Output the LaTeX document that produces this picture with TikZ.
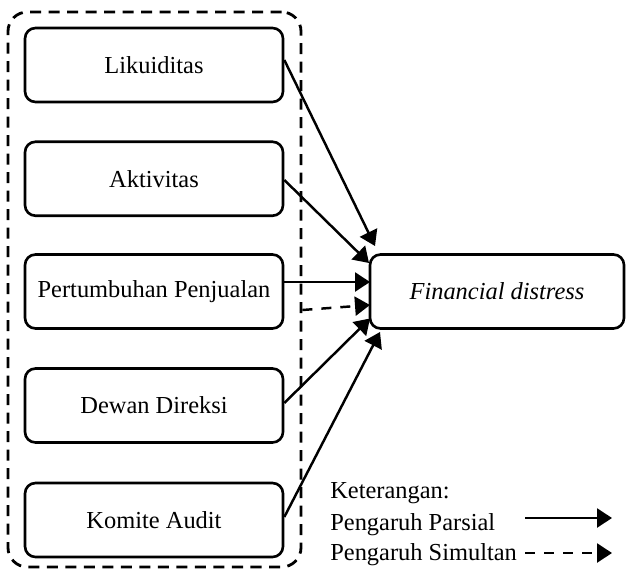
\documentclass[tikz,border=0pt]{standalone}
\usepackage{fontspec}
\setmainfont{Liberation Serif}
\usepackage{tikz}
\usetikzlibrary{
  arrows.meta,
  positioning
}

\begin{document}
\begin{tikzpicture}[
  font=\fontsize{13.9}{16.6}\selectfont,
  var/.style={
    draw, rounded corners=6pt,
    align=center, minimum width=5.16cm,
    minimum height=1.48cm, line width=1.5pt
  },
  group/.style={
    draw, rounded corners=11pt, line width=1.6pt,
    dash pattern=on 0.22cm off 0.15cm
  },
  arrow/.style={
    -{Triangle[length=3mm, width=3.8mm]},
    line width=1.4pt},
  simul/.style={arrow,
    dash pattern=on 0.2cm off 0.18cm}
]
\useasboundingbox (0,0) rectangle (12.54,-11.44);

\node[group, minimum width=5.86cm,
  minimum height=11.1cm] (grp) at (3.09,-5.79) {};

\node[var] (lik) at (3.08,-1.3)   {Likuiditas};
\node[var] (akt) at (3.08,-3.575) {Aktivitas};
\node[var] (pp)  at (3.08,-5.83)  {Pertumbuhan Penjualan};
\node[var] (dd)  at (3.08,-8.11)  {Dewan Direksi};
\node[var] (ka)  at (3.08,-10.4)  {Komite Audit};

\node[var, minimum width=5.08cm] (fd) at (9.94,-5.83)
  {\textit{Financial distress}};

\coordinate (t1) at (7.50,-4.92);
\coordinate (t2) at (7.38,-5.26);
\coordinate (t3) at (7.40,-5.64);
\coordinate (t4) at (7.40,-6.10);
\coordinate (t5) at (7.40,-6.37);
\coordinate (t6) at (7.60,-6.64);

\draw[arrow] (lik.east |- 0,-1.2) -- (t1);
\draw[arrow] (akt.east |- 0,-3.6) -- (t2);
\draw[arrow] (pp.east |- t3) -- (t3);
\draw[simul] (grp.east |- 0,-6.2) -- (t4);
\draw[arrow] (dd.east |- 0,-8.06) -- (t5);
\draw[arrow] (ka.east |- 0,-10.34) -- (t6);

\node[anchor=base west, inner sep=0] (ket) at (6.6,-9.96)
  {Keterangan:};
\node[anchor=base west, inner sep=0] (par) at (6.6,-10.6)
  {Pengaruh Parsial};
\node[anchor=base west, inner sep=0] (sim) at (6.6,-11.2)
  {Pengaruh Simultan};

\coordinate (p1) at (10.5,-10.36);
\coordinate (p2) at (12.24,-10.36);
\coordinate (s1) at (10.5,-11.06);
\coordinate (s2) at (12.24,-11.06);
\draw[arrow] (p1) -- (p2);
\draw[simul] (s1) -- (s2);
\end{tikzpicture}
\end{document}
